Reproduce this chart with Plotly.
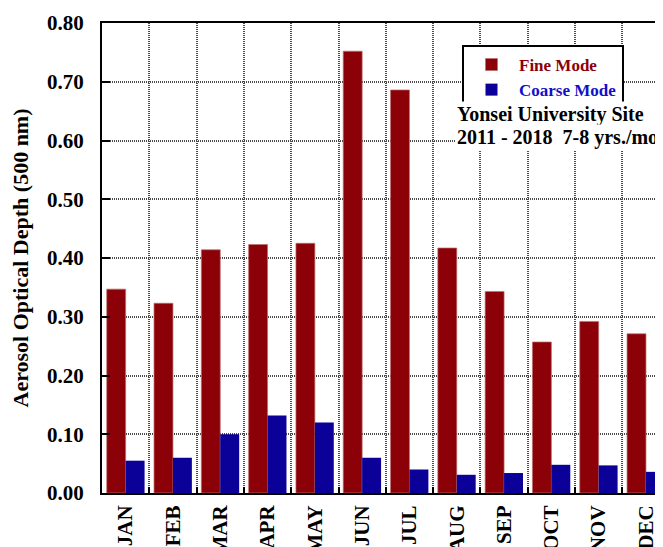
import plotly.graph_objects as go

months = ["JAN", "FEB", "MAR", "APR", "MAY", "JUN", "JUL", "AUG", "SEP", "OCT", "NOV", "DEC"]
fine_mode = [0.347, 0.323, 0.414, 0.423, 0.425, 0.752, 0.686, 0.417, 0.343, 0.257, 0.292, 0.271]
coarse_mode = [0.055, 0.060, 0.100, 0.132, 0.120, 0.060, 0.040, 0.031, 0.034, 0.048, 0.047, 0.036]
y_ticks = [0.0, 0.1, 0.2, 0.3, 0.4, 0.5, 0.6, 0.7, 0.8]

FONT = "Liberation Serif, Times New Roman, serif"
FINE_COLOR = "#8c0008"
COARSE_COLOR = "#0b0098"
GRID = dict(showgrid=True, gridcolor="#4a4a4a", gridwidth=2, griddash="1px,1px")

# the page body adds an 8px offset; figure coordinates = window coordinates - 8
OFF = 8
FIG_W, FIG_H = 663 - OFF, 547 - OFF
PLOT_L, PLOT_T, PLOT_B = 102 - OFF, 23 - OFF, 493.5 - OFF
PLOT_W, PLOT_H = FIG_W - PLOT_L, PLOT_B - PLOT_T

fig = go.Figure()
fig.add_trace(go.Bar(
    x=months, y=fine_mode,
    name=f"<span style='color:{FINE_COLOR}'>Fine Mode</span>",
    marker=dict(color=FINE_COLOR, line=dict(color="rgba(190,110,110,0.7)", width=1)),
))
fig.add_trace(go.Bar(
    x=months, y=coarse_mode,
    name="<span style='color:#1010c8'>Coarse Mode</span>",
    marker=dict(color=COARSE_COLOR, line=dict(width=0)),
))

x_range = [-0.5, 11.36]

fig.update_layout(
    width=FIG_W, height=FIG_H,
    margin=dict(l=PLOT_L, r=0, t=PLOT_T, b=FIG_H - PLOT_B, autoexpand=False),
    paper_bgcolor="white", plot_bgcolor="white",
    barmode="group", bargap=0.2, bargroupgap=0.0,
    font=dict(family=FONT, color="black", size=21, weight="bold"),
    showlegend=True,
    legend=dict(
        x=(462 - OFF - PLOT_L) / PLOT_W, y=(PLOT_B - (45 - OFF)) / PLOT_H,
        xanchor="left", yanchor="top",
        bgcolor="white", bordercolor="black", borderwidth=2,
        font=dict(family=FONT, size=17, weight="bold"),
        itemwidth=45, tracegroupgap=0, traceorder="normal",
        entrywidth=135,
    ),
    xaxis=dict(
        type="category", range=x_range, automargin=False,
        tickson="boundaries", ticks="inside", ticklen=6, tickwidth=2, tickcolor="black",
        tickangle=-90, ticklabelstandoff=2,
        showline=True, linecolor="black", linewidth=2, mirror=True,
        tickfont=dict(family=FONT, size=21, weight="bold"),
        **GRID,
    ),
    xaxis2=dict(
        type="linear", overlaying="x", side="top", anchor="y",
        range=x_range, tickvals=list(range(len(months))), automargin=False,
        ticks="inside", ticklen=6, tickwidth=2, tickcolor="black",
        showticklabels=False, showgrid=False, showline=False, zeroline=False,
    ),
    yaxis=dict(
        range=[0, 0.8], tickvals=y_ticks, tickformat=".2f", automargin=False,
        ticks="inside", ticklen=8, tickwidth=2, tickcolor="black",
        showline=True, linecolor="black", linewidth=2, mirror=False,
        zeroline=False, ticklabelstandoff=12,
        tickfont=dict(family=FONT, size=21, weight="bold"),
        title=dict(text="Aerosol Optical Depth (500 nm)", standoff=12,
                   font=dict(family=FONT, size=22, weight="bold")),
        **GRID,
    ),
)

for text, y_px in [("Yonsei University Site", 115),
                   ("2011 - 2018\u00a0\u00a07-8 yrs./mo.", 138)]:
    fig.add_annotation(
        text=text, xref="paper", yref="paper",
        x=(455 - OFF - PLOT_L) / PLOT_W, y=(PLOT_B - (y_px - OFF)) / PLOT_H,
        xanchor="left", yanchor="middle",
        showarrow=False, bgcolor="white", borderpad=1,
        font=dict(family=FONT, size=20, weight="bold", color="black"),
    )

fig.write_html("out.html")
